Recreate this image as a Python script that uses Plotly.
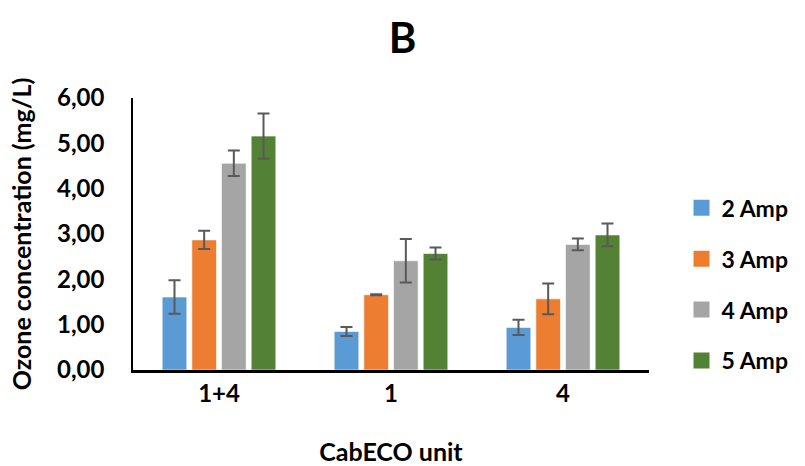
import plotly.graph_objects as go

categories = ["1+4", "1", "4"]
series_names = ["2 Amp", "3 Amp", "4 Amp", "5 Amp"]
colors = ["#5B9BD5", "#ED7D31", "#A5A5A5", "#548235"]
values = {
    "2 Amp": [1.61, 0.85, 0.94],
    "3 Amp": [2.87, 1.66, 1.57],
    "4 Amp": [4.56, 2.41, 2.77],
    "5 Amp": [5.16, 2.57, 2.98],
}
errors = {
    "2 Amp": [0.37, 0.10, 0.17],
    "3 Amp": [0.20, 0.01, 0.34],
    "4 Amp": [0.28, 0.48, 0.13],
    "5 Amp": [0.50, 0.13, 0.25],
}
y_ticks = [0, 1, 2, 3, 4, 5, 6]

FONT = "Lato"
W = "bold"
fig = go.Figure()
for name, col in zip(series_names, colors):
    fig.add_trace(go.Bar(
        x=categories, y=values[name], name=name,
        marker=dict(color=col, line=dict(color="rgba(255,255,255,0.6)", width=1)),
        error_y=dict(type="data", array=errors[name], visible=True,
                     color="#595959", thickness=2, width=6),
        showlegend=False,
    ))
# legend entries (square swatches)
for name, col in zip(series_names, colors):
    fig.add_trace(go.Scatter(
        x=[None], y=[None], mode="markers", name=name, legendgroup=name,
        marker=dict(symbol="square", size=16, color=col),
        showlegend=True,
    ))

fig.update_layout(
    width=805, height=466,
    margin=dict(l=133, r=147, t=98, b=96),
    paper_bgcolor="white", plot_bgcolor="white",
    barmode="group", bargap=0.31, bargroupgap=0.17,
    separators=",.",
    font=dict(family=FONT, color="black", size=18),
    title=dict(text="B", x=0.5, xanchor="center", y=0.918, yanchor="middle",
               font=dict(family=FONT, size=42, color="black", weight=W)),
    legend=dict(x=1.063, xanchor="left", y=0.315, yanchor="middle",
                font=dict(family=FONT, size=23, color="black", weight=W),
                tracegroupgap=18, itemwidth=30, itemsizing="trace"),
    showlegend=True,
)
fig.update_yaxes(
    range=[0, 6], tickvals=y_ticks, tickformat=".2f", automargin=False,
    showline=True, linecolor="black", linewidth=1.5,
    showgrid=False, zeroline=False, ticks="", ticklabelstandoff=22,
    tickfont=dict(family=FONT, size=24, color="black", weight=W),
    title=dict(text="Ozone concentration (mg/L)", standoff=18,
               font=dict(family=FONT, size=25, color="black", weight=W)),
)
fig.update_xaxes(
    showline=True, linecolor="black", linewidth=3, automargin=False,
    showgrid=False, ticks="",
    tickfont=dict(family=FONT, size=24, color="black", weight=W),
    title=dict(text="CabECO unit", standoff=44,
               font=dict(family=FONT, size=25, color="black", weight=W)),
)

fig.write_html("out.html")
